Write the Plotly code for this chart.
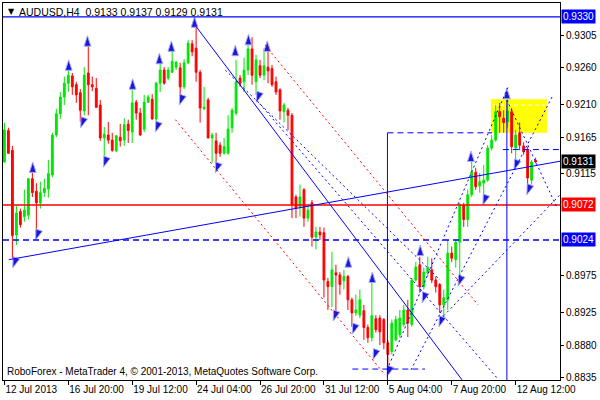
import plotly.graph_objects as go

# ---------------- data (AUDUSD H4) ----------------
opens = [0.9131,0.9174,0.9147,0.9031,0.9063,0.9056,0.9058,0.9108,0.9091,0.9075,
         0.9089,0.9094,0.9113,0.9168,0.9197,0.9220,0.9239,0.9249,0.9237,0.9226,
         0.9201,0.9253,0.9237,0.9232,0.9209,0.9164,0.9168,0.9161,0.9146,0.9165,
         0.9161,0.9183,0.9172,0.9213,0.9198,0.9176,0.9213,0.9217,0.9190,0.9239,
         0.9257,0.9246,0.9254,0.9261,0.9260,0.9234,0.9267,0.9293,0.9287,0.9254,
         0.9204,0.9216,0.9164,0.9160,0.9154,0.9143,0.9143,0.9178,0.9198,0.9246,
         0.9241,0.9257,0.9286,0.9241,0.9263,0.9250,0.9261,0.9259,0.9241,0.9230,
         0.9200,0.9202,0.9195,0.9083,0.9069,0.9093,0.9054,0.9075,0.9028,0.9035,
         0.9034,0.8967,0.8960,0.8979,0.8976,0.8968,0.8974,0.8942,0.8924,0.8921,
         0.8927,0.8904,0.8890,0.8916,0.8917,0.8915,0.8883,0.8871,0.8887,0.8894,
         0.8908,0.8928,0.8908,0.8969,0.8990,0.8960,0.8979,0.8983,0.8969,0.8963,
         0.8935,0.8942,0.9006,0.8997,0.9021,0.9072,0.9052,0.9086,0.9117,0.9098,
         0.9102,0.9106,0.9150,0.9161,0.9200,0.9191,0.9186,0.9200,0.9150,0.9171,
         0.9153,0.9147,0.9106,0.9133]
highs = [0.9185,0.9178,0.9153,0.9071,0.9067,0.9093,0.9109,0.9119,0.9102,0.9104,
         0.9108,0.9134,0.9171,0.9204,0.9227,0.9248,0.9257,0.9253,0.9241,0.9231,
         0.9261,0.9289,0.9248,0.9246,0.9216,0.9179,0.9186,0.9171,0.9168,0.9183,
         0.9191,0.9189,0.9232,0.9216,0.9205,0.9223,0.9223,0.9224,0.9241,0.9267,
         0.9261,0.9261,0.9283,0.9269,0.9267,0.9272,0.9298,0.9298,0.9316,0.9257,
         0.9234,0.9219,0.9171,0.9171,0.9158,0.9164,0.9195,0.9205,0.9271,0.9250,
         0.9274,0.9294,0.9302,0.9278,0.9271,0.9287,0.9282,0.9264,0.9248,0.9232,
         0.9212,0.9205,0.9198,0.9086,0.9100,0.9095,0.9072,0.9079,0.9042,0.9042,
         0.9041,0.8972,0.9008,0.8990,0.8980,0.8983,0.8976,0.8945,0.8949,0.8956,
         0.8935,0.8908,0.8967,0.8921,0.8921,0.8917,0.8887,0.8915,0.8920,0.8928,
         0.8935,0.8942,0.8972,0.8994,0.9001,0.8986,0.9001,0.8999,0.8974,0.8965,
         0.8956,0.9024,0.9015,0.9024,0.9075,0.9075,0.9093,0.9131,0.9123,0.9116,
         0.9127,0.9154,0.9168,0.9209,0.9212,0.9202,0.9217,0.9205,0.9175,0.9185,
         0.9158,0.9152,0.9134,0.9137]
lows = [0.9130,0.9142,0.8999,0.9017,0.9041,0.9049,0.9052,0.9083,0.9034,0.9067,
        0.9083,0.9082,0.9110,0.9165,0.9190,0.9209,0.9227,0.9223,0.9212,0.9186,
        0.9195,0.9195,0.9228,0.9205,0.9160,0.9134,0.9156,0.9145,0.9145,0.9152,
        0.9153,0.9157,0.9157,0.9189,0.9167,0.9172,0.9212,0.9189,0.9187,0.9227,
        0.9237,0.9243,0.9253,0.9257,0.9220,0.9231,0.9265,0.9276,0.9241,0.9185,
        0.9202,0.9163,0.9130,0.9124,0.9138,0.9141,0.9141,0.9171,0.9195,0.9234,
        0.9227,0.9250,0.9237,0.9223,0.9246,0.9243,0.9239,0.9234,0.9223,0.9189,
        0.9185,0.9175,0.9054,0.9054,0.9056,0.9042,0.9049,0.9015,0.9011,0.9024,
        0.8945,0.8928,0.8932,0.8924,0.8949,0.8956,0.8928,0.8905,0.8920,0.8917,
        0.8887,0.8883,0.8885,0.8897,0.8880,0.8874,0.8842,0.8867,0.8885,0.8890,
        0.8905,0.8891,0.8905,0.8967,0.8952,0.8956,0.8974,0.8965,0.8952,0.8924,
        0.8921,0.8928,0.8994,0.8986,0.8969,0.9042,0.9042,0.9083,0.9093,0.9089,
        0.9083,0.9104,0.9147,0.9159,0.9171,0.9171,0.9178,0.9143,0.9131,0.9147,
        0.9141,0.9095,0.9100,0.9129]
closes = [0.9175,0.9143,0.9030,0.9061,0.9045,0.9065,0.9108,0.9089,0.9075,0.9089,
          0.9095,0.9115,0.9168,0.9197,0.9220,0.9239,0.9250,0.9234,0.9223,0.9202,
          0.9250,0.9237,0.9234,0.9206,0.9164,0.9169,0.9161,0.9147,0.9167,0.9160,
          0.9182,0.9174,0.9212,0.9198,0.9168,0.9213,0.9220,0.9190,0.9239,0.9257,
          0.9239,0.9257,0.9269,0.9268,0.9234,0.9267,0.9294,0.9282,0.9254,0.9205,
          0.9206,0.9164,0.9168,0.9143,0.9143,0.9152,0.9176,0.9202,0.9241,0.9239,
          0.9257,0.9286,0.9250,0.9271,0.9250,0.9263,0.9256,0.9237,0.9227,0.9201,
          0.9209,0.9195,0.9072,0.9068,0.9083,0.9054,0.9065,0.9028,0.9035,0.9031,
          0.8969,0.8960,0.8983,0.8976,0.8963,0.8974,0.8942,0.8924,0.8928,0.8942,
          0.8904,0.8890,0.8920,0.8901,0.8898,0.8883,0.8867,0.8910,0.8915,0.8917,
          0.8928,0.8910,0.8969,0.8987,0.8960,0.8980,0.8986,0.8969,0.8960,0.8935,
          0.8945,0.9006,0.8999,0.9021,0.9072,0.9052,0.9086,0.9117,0.9097,0.9104,
          0.9106,0.9150,0.9161,0.9200,0.9193,0.9185,0.9201,0.9152,0.9168,0.9154,
          0.9145,0.9109,0.9131,0.9131]
bars = list(range(len(closes)))

x_tick_bars = [0, 16, 32, 48, 64, 80, 96, 112, 128]
x_tick_labels = ["12 Jul 2013", "16 Jul 20:00", "19 Jul 12:00", "24 Jul 04:00",
                 "26 Jul 20:00", "31 Jul 12:00", "5 Aug 04:00", "7 Aug 20:00",
                 "12 Aug 12:00"]
y_tick_values = [0.9305, 0.9260, 0.9210, 0.9165, 0.9115, 0.8975, 0.8925, 0.8880, 0.8835]

# horizontal levels: (price, colour, dash)
levels = [(0.9330, "#0000ff", "solid"), (0.9072, "#ff0000", "solid"),
          (0.9024, "#0000ff", "dash")]
price_tags = [(0.9330, "#0000ff"), (0.9131, "#000000"), (0.9072, "#ff0000"), (0.9024, "#0000ff")]

# drawn trend lines: (bar0, price0, bar1, price1, colour, dash)
trend_lines = [
    (1.1, 0.8997, 139.1, 0.9132, "#0000ff", "solid"),
    (48.1, 0.9316, 114.6, 0.8832, "#0000ff", "solid"),
    (55.3, 0.9257, 109.1, 0.8969, "#0000ff", "dot"),
    (63.1, 0.9216, 123.3, 0.8835, "#0000ff", "dot"),
    (65.3, 0.9291, 118.6, 0.8935, "#ff0000", "dot"),
    (42.8, 0.9189, 95.3, 0.8839, "#ff0000", "dot"),
    (95.8, 0.8846, 126.1, 0.9234, "#0000ff", "dot"),
    (101.8, 0.8846, 137.1, 0.9220, "#0000ff", "dot"),
    (125.8, 0.9216, 138.3, 0.9069, "#0000ff", "dot"),
    (109.1, 0.8915, 139.1, 0.9086, "#0000ff", "dot"),
    (95.9, 0.9171, 122.1, 0.9171, "#0000ff", "dash"),
    (124.8, 0.9148, 139.1, 0.9148, "#0000ff", "dash"),
    (87.1, 0.8847, 105.3, 0.8847, "#0000ff", "dash"),
    (95.9, 0.9171, 95.9, 0.8832, "#0000ff", "solid"),
    (125.8, 0.9216, 125.8, 0.8832, "#0000ff", "solid"),
]
box_zone = (121.8, 0.9217, 135.8, 0.9171)
box_mid = 0.9209

up_arrow_bars = [16.1, 20.8, 32.1, 38.8, 41.8, 47.6, 57.8, 61.1, 65.8, 7.1, 86.1, 92.1, 104.1, 116.8, 125.8]
up_arrow_prices = [0.9271, 0.9304, 0.9245, 0.9280, 0.9297, 0.9330, 0.9291, 0.9306, 0.9297, 0.9131,
                   0.9001, 0.8980, 0.9017, 0.9146, 0.9232]
down_arrow_bars = [19.1, 24.8, 37.8, 43.8, 7.8, 2.1, 52.8, 63.1, 82.3, 87.1, 92.3, 95.8,
                   104.6, 108.8, 113.6, 119.8, 127.6, 130.8]
down_arrow_prices = [0.9178, 0.9124, 0.9172, 0.9209, 0.9024, 0.8986, 0.9116, 0.9213, 0.8913, 0.8895,
                     0.8860, 0.8837, 0.8938, 0.8905, 0.8961, 0.9072, 0.9120, 0.9086]

title_text = "AUDUSD,H4  0.9133 0.9137 0.9129 0.9131"
footer_text = "RoboForex - MetaTrader 4, © 2001-2013, MetaQuotes Software Corp."

# ---------------- figure ----------------
FONT = "Liberation Sans"
X_RANGE = [-0.35, 139.1]
Y_RANGE = [0.8832, 0.9349]

fig = go.Figure()

# yellow zone
fig.add_shape(type="rect", xref="x", yref="y", x0=box_zone[0], y0=box_zone[1],
              x1=box_zone[2], y1=box_zone[3], fillcolor="#ffff00", line_width=0, layer="below")
fig.add_shape(type="line", xref="x", yref="y", x0=box_zone[0] + 0.5, x1=box_zone[2] - 0.5,
              y0=box_mid, y1=box_mid, line=dict(color="white", width=1, dash="4px,3px"), layer="below")

for p, col, dash in levels:
    fig.add_shape(type="line", xref="paper", yref="y", x0=0, x1=1, y0=p, y1=p,
                  line=dict(color=col, width=1.3, dash="6px,4px" if dash == "dash" else "solid"))

for b0, p0, b1, p1, col, dash in trend_lines:
    d = {"solid": "solid", "dot": "2px,3px", "dash": "6px,4px"}[dash]
    fig.add_shape(type="line", xref="x", yref="y", x0=b0, y0=p0, x1=b1, y1=p1,
                  line=dict(color=col, width=1, dash=d))

fig.add_trace(go.Candlestick(
    x=bars, open=opens, high=highs, low=lows, close=closes,
    increasing=dict(line=dict(color="#00e600", width=1), fillcolor="#00e600"),
    decreasing=dict(line=dict(color="#ff0000", width=1), fillcolor="#ff0000"),
    whiskerwidth=0, hoverinfo="skip"))

fig.add_trace(go.Scatter(x=up_arrow_bars, y=up_arrow_prices, mode="markers",
                         marker=dict(symbol="arrow", size=11, angle=0, color="#1a1ad6",
                                     line=dict(color="#a8a8ff", width=1)), hoverinfo="skip"))
fig.add_trace(go.Scatter(x=down_arrow_bars, y=down_arrow_prices, mode="markers",
                         marker=dict(symbol="arrow", size=11, angle=200, color="#1a1ad6",
                                     line=dict(color="#a8a8ff", width=1)), hoverinfo="skip"))

for p, col in price_tags:
    fig.add_annotation(xref="paper", yref="y", x=1, y=p, xanchor="left", yanchor="middle",
                       xshift=1, text=f"{p:.4f}", showarrow=False, bgcolor=col,
                       font=dict(family=FONT, size=10, color="white"), borderpad=1)

fig.add_annotation(xref="paper", yref="paper", x=0, y=1, xanchor="left", yanchor="top",
                   xshift=3, yshift=-2, text="▼", showarrow=False,
                   font=dict(family="DejaVu Sans", size=8, color="black"))
fig.add_annotation(xref="paper", yref="paper", x=0, y=1, xanchor="left", yanchor="top",
                   xshift=14, yshift=-1, text=title_text, showarrow=False,
                   font=dict(family=FONT, size=10.5, color="black"))
fig.add_annotation(xref="paper", yref="paper", x=0, y=0, xanchor="left", yanchor="bottom",
                   xshift=2, yshift=1, text=footer_text, showarrow=False,
                   font=dict(family=FONT, size=10, color="black"))

fig.update_layout(
    width=600, height=400, margin=dict(l=3, r=40, t=3, b=20, autoexpand=False),
    paper_bgcolor="white", plot_bgcolor="white", showlegend=False,
    boxgap=0.35,
    xaxis=dict(range=X_RANGE, tickvals=x_tick_bars, ticktext=x_tick_labels,
               ticks="outside", ticklen=4, tickcolor="black", showgrid=False, zeroline=False,
               showline=True, linecolor="black", linewidth=1, mirror=True,
               ticklabelposition="outside right", tickangle=0, automargin=False,
               tickfont=dict(family=FONT, size=10, color="black"),
               rangeslider=dict(visible=False), fixedrange=True),
    yaxis=dict(range=Y_RANGE, side="right", tickvals=y_tick_values, tickformat=".4f",
               ticks="outside", ticklen=3, tickcolor="black", showgrid=False, zeroline=False,
               showline=True, linecolor="black", linewidth=1, mirror=True, automargin=False,
               tickfont=dict(family=FONT, size=10, color="black"), fixedrange=True),
)

fig.write_html("out.html", config={"displayModeBar": False},
               post_script="document.body.style.margin='0';document.body.style.overflow='hidden';")
